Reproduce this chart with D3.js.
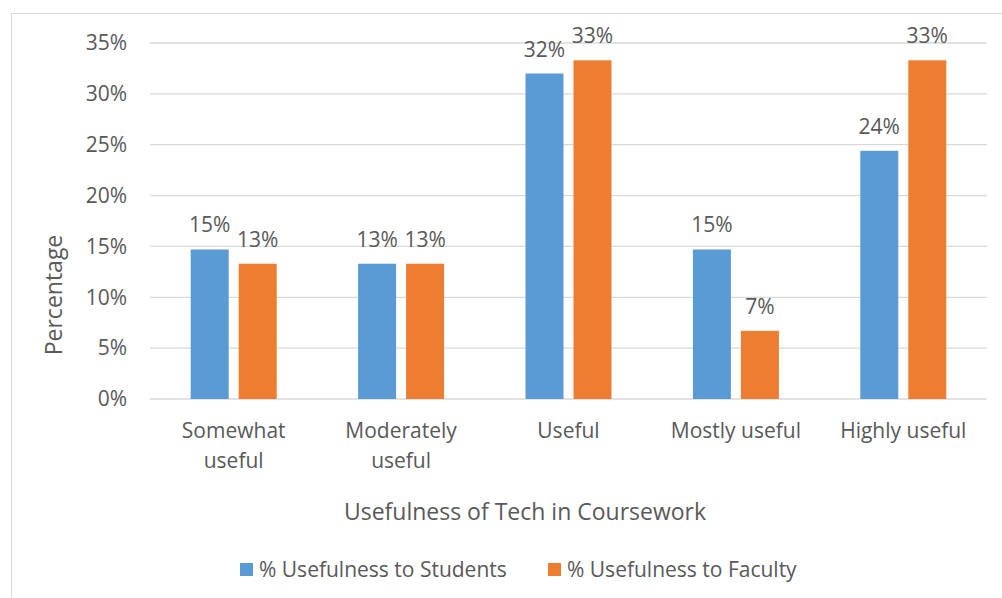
<!DOCTYPE html>
<html>
<head>
<meta charset="utf-8">
<script src="https://cdn.jsdelivr.net/npm/d3@7"></script>
<style>
  body { margin: 0; background: #fff; }
  text { font-family: "Open Sans", "Noto Sans", sans-serif; fill: #595959; }
</style>
</head>
<body>
<div id="chart"></div>
<script>
// data
var categories = [["Somewhat", "useful"], ["Moderately", "useful"], ["Useful"], ["Mostly useful"], ["Highly useful"]];
var seriesNames = ["% Usefulness to Students", "% Usefulness to Faculty"];
var students = [14.7, 13.3, 32.0, 14.7, 24.4];
var faculty = [13.3, 13.3, 33.3, 6.7, 33.3];
var labelsStudents = ["15%", "13%", "32%", "15%", "24%"];
var labelsFaculty = ["13%", "13%", "33%", "7%", "33%"];
var yTicks = [0, 5, 10, 15, 20, 25, 30, 35];
var colors = ["#5B9BD5", "#ED7D31"];

var svgWidth = 1002, svgHeight = 598;
var margin = { top: 43, right: 15, bottom: 199, left: 150 };
var chart_width = 987 - margin.left;
var chart_height = 399 - margin.top;

var svg = d3.select("#chart").append("svg")
    .attr("width", svgWidth)
    .attr("height", svgHeight);

// chart border
svg.append("rect")
    .attr("x", 11.5).attr("y", 13.5)
    .attr("width", 1000).attr("height", 600)
    .attr("fill", "none")
    .attr("stroke", "#d9d9d9");

var chartGroup = svg.append("g")
    .attr("transform", `translate(${margin.left}, ${margin.top})`);

var xScale = d3.scaleBand()
    .domain(d3.range(categories.length))
    .range([0, chart_width]);

var yScale = d3.scaleLinear()
    .domain([0, 35])
    .range([chart_height, 0]);

// gridlines
chartGroup.append("g")
    .selectAll("line")
    .data(yTicks)
    .enter()
    .append("line")
    .attr("x1", 0).attr("x2", chart_width)
    .attr("y1", d => yScale(d)).attr("y2", d => yScale(d))
    .attr("stroke", "#d9d9d9")
    .attr("stroke-width", 1.3);

// y axis labels
var leftAxis = d3.axisLeft(yScale).tickValues(yTicks).tickFormat(d => d + "%").tickSize(0).tickPadding(23);
var yAxisG = chartGroup.append("g").call(leftAxis);
yAxisG.select(".domain").remove();
yAxisG.selectAll("text").style("font-size", "21px").attr("fill", "#595959");

var barW = 38, gap = 10;
var groupW = barW * 2 + gap;
var series = [students, faculty];
var labels = [labelsStudents, labelsFaculty];

series.forEach(function(vals, s) {
    var xOff = (xScale.bandwidth() - groupW) / 2 + s * (barW + gap);
    chartGroup.selectAll(".bar" + s)
        .data(vals)
        .enter()
        .append("rect")
        .attr("class", "bar" + s)
        .attr("x", (d, i) => xScale(i) + xOff)
        .attr("y", d => yScale(d))
        .attr("width", barW)
        .attr("height", d => chart_height - yScale(d))
        .attr("fill", colors[s]);

    chartGroup.selectAll(".lab" + s)
        .data(vals)
        .enter()
        .append("text")
        .attr("class", "lab" + s)
        .attr("x", (d, i) => xScale(i) + xOff + barW / 2)
        .attr("y", d => yScale(d) - 17)
        .attr("text-anchor", "middle")
        .style("font-size", "21px")
        .text((d, i) => labels[s][i]);
});

// category labels
categories.forEach(function(lines, i) {
    var cx = xScale(i) + xScale.bandwidth() / 2;
    var t = chartGroup.append("text")
        .attr("x", cx)
        .attr("y", chart_height + 39)
        .attr("text-anchor", "middle")
        .style("font-size", "21px");
    lines.forEach(function(l, j) {
        t.append("tspan")
            .attr("x", cx)
            .attr("dy", j === 0 ? 0 : 30)
            .text(l);
    });
});

// axis titles
chartGroup.append("text")
    .attr("transform", "rotate(-90)")
    .attr("x", -252)
    .attr("y", -88)
    .attr("text-anchor", "middle")
    .style("font-size", "23px")
    .text("Percentage");

svg.append("text")
    .attr("x", 525)
    .attr("y", 520)
    .attr("text-anchor", "middle")
    .style("font-size", "23px")
    .text("Usefulness of Tech in Coursework");

// legend
var legendX = [240, 548];
seriesNames.forEach(function(name, s) {
    svg.append("rect")
        .attr("x", legendX[s]).attr("y", 563)
        .attr("width", 13).attr("height", 13)
        .attr("fill", colors[s]);
    svg.append("text")
        .attr("x", legendX[s] + 19)
        .attr("y", 577)
        .style("font-size", "21px")
        .text(name);
});
</script>
</body>
</html>
